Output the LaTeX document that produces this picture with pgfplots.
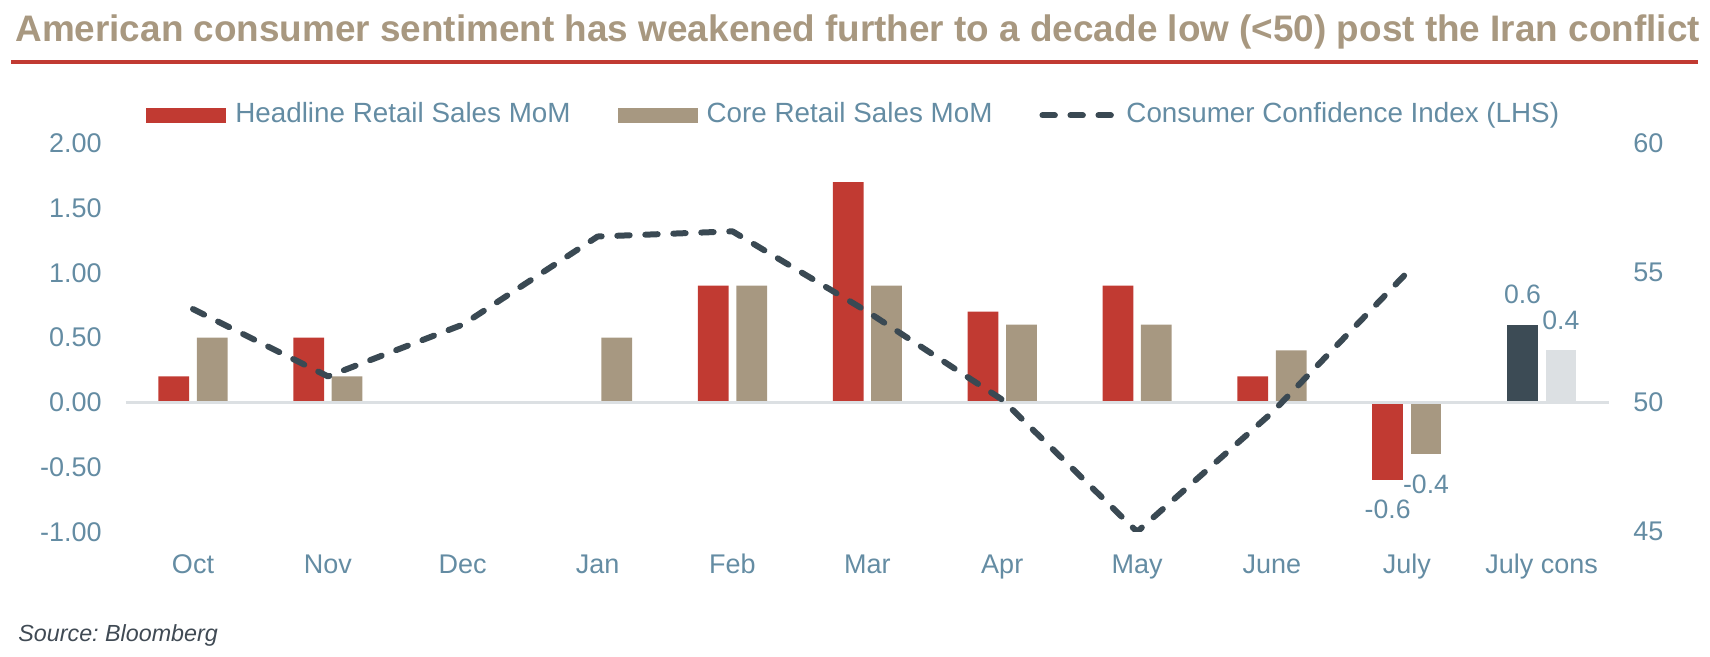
\documentclass[border=0pt]{standalone}
\usepackage{fontspec}
\setmainfont{Liberation Sans}
\usepackage{pgfplots}
\pgfplotsset{compat=1.18}
\frenchspacing
\definecolor{hred}{RGB}{193,58,50}
\definecolor{ctan}{RGB}{167,152,129}
\definecolor{slate}{RGB}{58,73,83}
\definecolor{cdark}{RGB}{60,75,85}
\definecolor{clight}{RGB}{220,224,227}
\definecolor{lbl}{RGB}{100,140,163}
\definecolor{zline}{RGB}{220,224,227}
\definecolor{ttan}{RGB}{168,152,128}
\definecolor{src}{RGB}{64,74,84}
\pgfplotsset{
 hbarleg/.style={legend image code/.code={\fill[hred] (0pt,0pt) rectangle (40pt,7.5pt);}},
 cbarleg/.style={legend image code/.code={\fill[ctan] (0pt,0pt) rectangle (40pt,7.5pt);}},
 lineleg/.style={legend image code/.code={\path[draw=none] (0pt,0pt) -- (37.5pt,0pt); \draw[slate, line width=3pt, line cap=round, dash pattern=on 6.2pt off 7.8pt] (0pt,3.75pt) -- (35.5pt,3.75pt);}},
 barlbl/.style 2 args={nodes near coords={\pgfplotspointmeta}, point meta=explicit symbolic,
   every node near coord/.append style={inner sep=10pt, text=lbl, font=\fontsize{13.3pt}{16pt}\selectfont, anchor=#1, xshift=#2}},
}
\begin{document}
\begin{tikzpicture}
\path[use as bounding box] (0,0) rectangle (855pt,328.5pt);
\node[anchor=base west, inner sep=0pt, text=ttan, font=\fontsize{18.45pt}{22pt}\selectfont\bfseries] at (7.5pt,307.9pt) {American consumer sentiment has weakened further to a decade low (<50) post the Iran conflict};
\draw[hred, line width=1.75pt] (5.5pt,297.5pt) -- (849pt,297.5pt);
\node[anchor=base west, inner sep=0pt, text=src, font=\fontsize{11.65pt}{14pt}\selectfont\itshape] at (9pt,7.65pt) {Source: Bloomberg};

\begin{axis}[
  at={(62.78pt,62.6pt)}, anchor=south west,
  scale only axis, width=741.8pt, height=194.25pt,
  xmin=-0.5, xmax=10.5, ymin=-1, ymax=2,
  axis line style={draw=none}, major tick style={draw=none}, major tick length=0pt,
  xtick={0,...,10}, xticklabels={Oct,Nov,Dec,Jan,Feb,Mar,Apr,May,June,July,July cons},
  ytick={-1,-0.5,0,0.5,1,1.5,2},
  /pgf/number format/fixed, /pgf/number format/fixed zerofill, /pgf/number format/precision=2,
  /pgf/number format/assume math mode=true,
  tick label style={font=\fontsize{13.5pt}{16pt}\selectfont, text=lbl},
  xticklabel style={anchor=base, inner sep=0pt, yshift=-20.75pt},
  yticklabel style={anchor=east, inner sep=0pt, xshift=-11.8pt},
  legend style={draw=none, fill=none, at={(0,1)}, anchor=south west, xshift=10.2pt, yshift=10pt,
    inner sep=0pt, column sep=4.5pt,
    nodes={anchor=base west, inner sep=0pt, text depth=0pt, font=\fontsize{13.9pt}{16pt}\selectfont, text=lbl},
    /tikz/every even column/.append style={column sep=23.5pt}},
  legend columns=-1,
]
\addplot[ybar, bar width=15.35pt, bar shift=-9.6pt, fill=hred, draw=none, hbarleg]
  coordinates {(0,0.2) (1,0.5) (4,0.9) (5,1.7) (6,0.7) (7,0.9) (8,0.2)};
\addlegendentry{Headline Retail Sales MoM}
\addplot[ybar, bar width=15.35pt, bar shift=9.6pt, fill=ctan, draw=none, cbarleg]
  coordinates {(0,0.5) (1,0.2) (3,0.5) (4,0.9) (5,0.9) (6,0.6) (7,0.6) (8,0.4)};
\addlegendentry{Core Retail Sales MoM}
\addlegendimage{lineleg}
\addlegendentry{Consumer Confidence Index (LHS)}
\addplot[ybar, bar width=15.35pt, bar shift=-9.6pt, fill=hred, draw=none, forget plot, barlbl={north}{-9.6pt}]
  coordinates {(9,-0.6) [-0.6]};
\addplot[ybar, bar width=15.35pt, bar shift=9.6pt, fill=ctan, draw=none, forget plot, barlbl={north}{9.6pt}]
  coordinates {(9,-0.4) [-0.4]};
\addplot[ybar, bar width=15.35pt, bar shift=-9.6pt, fill=cdark, draw=none, forget plot, barlbl={south}{-9.6pt}]
  coordinates {(10,0.6) [0.6]};
\addplot[ybar, bar width=15.35pt, bar shift=9.6pt, fill=clight, draw=none, forget plot, barlbl={south}{9.6pt}]
  coordinates {(10,0.4) [0.4]};
\draw[zline, line width=1.5pt] (axis cs:-0.5,0) -- (axis cs:10.5,0);
\end{axis}

\begin{axis}[
  at={(62.78pt,62.6pt)}, anchor=south west,
  scale only axis, width=741.8pt, height=194.25pt,
  xmin=-0.5, xmax=10.5, ymin=45, ymax=60,
  axis x line=none, axis y line*=right, axis line style={draw=none},
  major tick style={draw=none}, major tick length=0pt,
  ytick={45,50,55,60},
  /pgf/number format/assume math mode=true,
  yticklabel style={anchor=west, inner sep=0pt, xshift=11.9pt, font=\fontsize{13.5pt}{16pt}\selectfont, text=lbl},
]
\addplot[slate, line width=3pt, line cap=round, line join=round, dash pattern=on 6.2pt off 7.8pt, mark=none]
  coordinates {(0,53.6) (1,51.0) (2,53.0) (3,56.4) (4,56.6) (5,53.5) (6,50.1) (7,45.0) (8,49.6) (9,55.0)};
\end{axis}
\end{tikzpicture}
\end{document}
